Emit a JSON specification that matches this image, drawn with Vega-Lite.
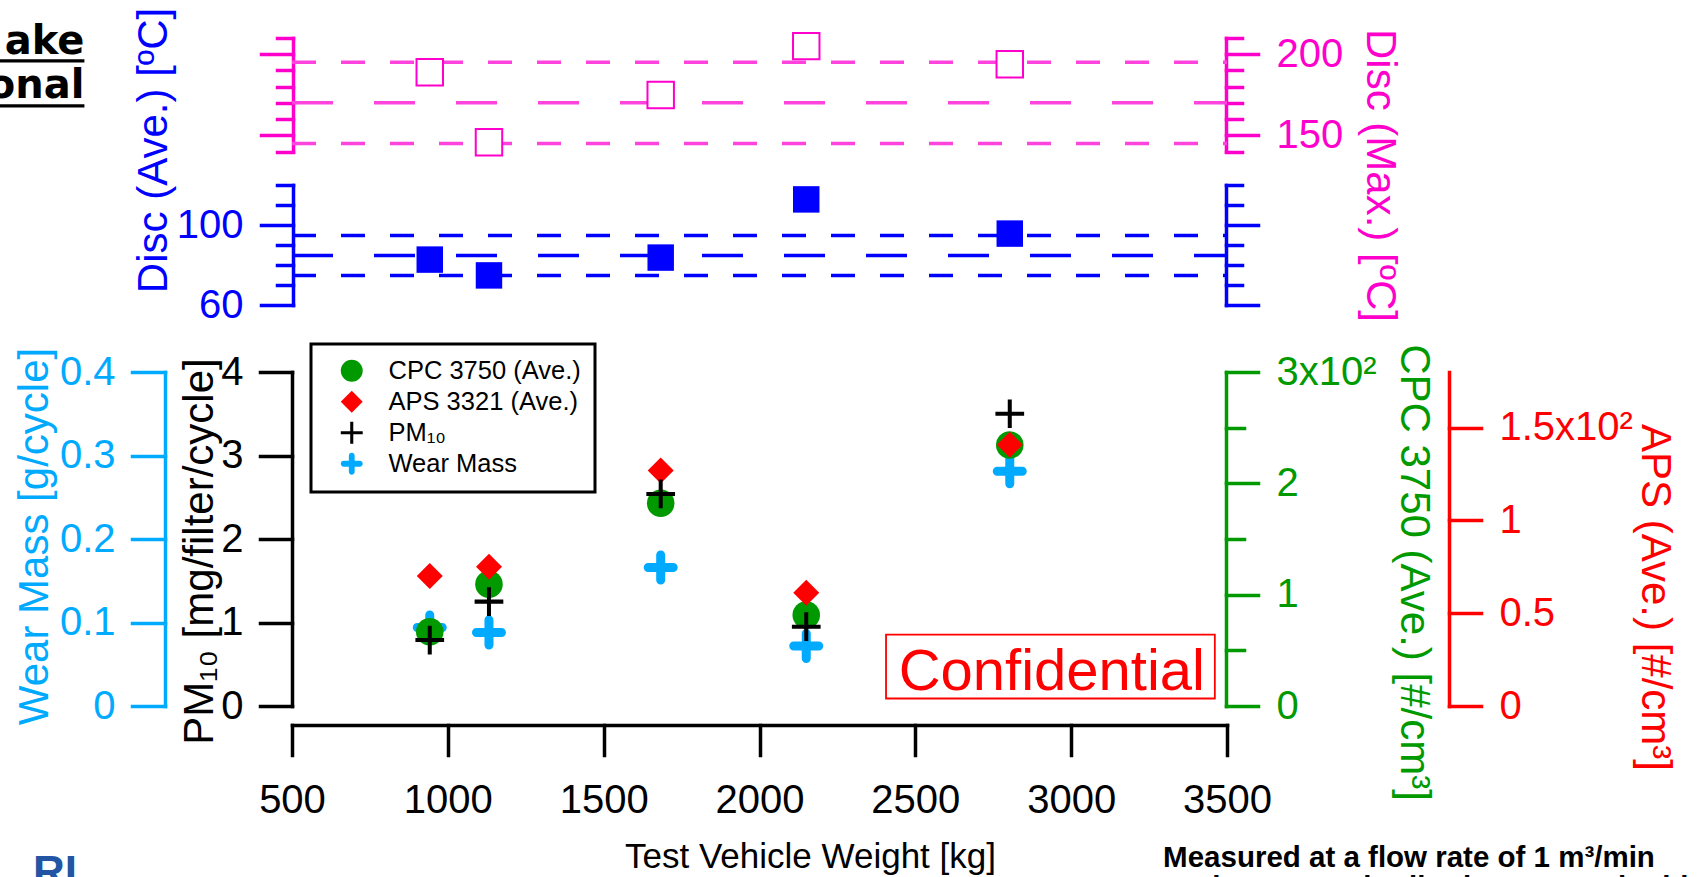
{
  "$schema": "https://vega.github.io/schema/vega-lite/v6.json",
  "width": 1698,
  "height": 877,
  "autosize": {"type": "none"},
  "padding": 0,
  "background": "white",
  "config": {
    "view": {"stroke": null},
    "font": "Liberation Sans",
    "axis": {
      "grid": false,
      "labelFont": "Liberation Sans",
      "titleFont": "Liberation Sans",
      "labelFontSize": 40,
      "titleFontSize": 42,
      "titleFontWeight": "normal",
      "domainWidth": 3.5,
      "tickWidth": 3.5,
      "labelOverlap": false,
      "labelFlush": false,
      "labelBound": false,
      "domainCap": "square",
      "tickCap": "square",
      "titleAlign": "center",
      "titleBaseline": "middle"
    },
    "legend": {"strokeWidth": 3}
  },
  "datasets": {
    "particles": [
      {"weight": 942, "pm10": 0.79, "wear": 0.094, "cpc": 66.7, "aps": 70.1},
      {"weight": 1132, "pm10": 1.25, "wear": 0.088, "cpc": 109.3, "aps": 75.1},
      {"weight": 1683, "pm10": 2.54, "wear": 0.166, "cpc": 182.1, "aps": 126.9},
      {"weight": 2150, "pm10": 0.95, "wear": 0.072, "cpc": 81.7, "aps": 61.1},
      {"weight": 2803, "pm10": 3.5, "wear": 0.281, "cpc": 234.4, "aps": 140.8}
    ],
    "disc": [
      {"weight": 942, "ave": 82.7, "max": 188.9},
      {"weight": 1132, "ave": 74.8, "max": 145.7},
      {"weight": 1683, "ave": 83.7, "max": 174.8},
      {"weight": 2150, "ave": 112.8, "max": 205.0},
      {"weight": 2803, "ave": 95.7, "max": 193.8}
    ],
    "aveLines": [
      {"temp": 94.8, "kind": "band"},
      {"temp": 84.8, "kind": "center"},
      {"temp": 74.8, "kind": "band"}
    ],
    "maxLines": [
      {"temp": 195, "kind": "band"},
      {"temp": 170, "kind": "center"},
      {"temp": 145, "kind": "band"}
    ],
    "one": [{}]
  },
  "resolve": {"scale": {"y": "independent"}, "axis": {"y": "independent", "x": "independent"}},
  "layer": [
    {
      "data": {"name": "aveLines"},
      "mark": {"type": "rule", "color": "#0000FF", "strokeWidth": 3.5},
      "encoding": {
        "x": {"datum": 500, "type": "quantitative", "scale": {"domain": [500, 3500], "range": [292, 1227], "nice": false, "zero": false}, "axis": null},
        "x2": {"datum": 3500},
        "y": {"field": "temp", "type": "quantitative",
          "scale": {"domain": [60, 120], "range": [305, 185], "nice": false, "zero": false},
          "axis": {"orient": "right", "offset": -472, "values": [60, 70, 80, 90, 100, 110, 120],
            "tickSize": {"condition": {"test": "datum.value === 60 || datum.value === 100", "value": 32}, "value": 16},
            "labels": false, "title": null, "domainColor": "#0000FF", "tickColor": "#0000FF"}},
        "strokeDash": {"field": "kind", "type": "nominal", "scale": {"domain": ["band", "center"], "range": [[24, 25], [41, 41]]}, "legend": null}
      }
    },
    {
      "data": {"name": "maxLines"},
      "mark": {"type": "rule", "color": "#FF44DD", "strokeWidth": 3.5},
      "encoding": {
        "x": {"datum": 500, "type": "quantitative", "scale": {"domain": [500, 3500], "range": [292, 1227], "nice": false, "zero": false}, "axis": null},
        "x2": {"datum": 3500},
        "y": {"field": "temp", "type": "quantitative",
          "scale": {"domain": [140, 210], "range": [151.5, 38], "nice": false, "zero": false},
          "axis": {"orient": "left", "offset": -293, "values": [140, 150, 160, 170, 180, 190, 200, 210],
            "tickSize": {"condition": {"test": "datum.value === 150 || datum.value === 200", "value": 32}, "value": 16},
            "labels": false, "title": null, "domainColor": "#FF00CC", "tickColor": "#FF00CC"}},
        "strokeDash": {"field": "kind", "type": "nominal", "scale": {"domain": ["band", "center"], "range": [[24, 25], [41, 41]]}, "legend": null}
      }
    },
    {
      "data": {"name": "disc"},
      "mark": {"type": "point", "shape": "square", "filled": true, "color": "#0000FF", "size": 700, "opacity": 1},
      "encoding": {
        "x": {"field": "weight", "type": "quantitative", "scale": {"domain": [500, 3500], "range": [292, 1227], "nice": false, "zero": false}, "axis": null},
        "y": {"field": "ave", "type": "quantitative",
          "scale": {"domain": [60, 120], "range": [305, 185], "nice": false, "zero": false},
          "axis": {"orient": "left", "offset": -293, "values": [60, 70, 80, 90, 100, 110, 120],
            "tickSize": {"condition": {"test": "datum.value === 60 || datum.value === 100", "value": 32}, "value": 16},
            "labelExpr": "(datum.value === 60 || datum.value === 100) ? datum.label : ''",
            "labelPadding": 18,
            "title": "Disc (Ave.) [ºC]", "titleX": -140, "titleY": 150,
            "domainColor": "#0000FF", "tickColor": "#0000FF", "labelColor": "#0000FF", "titleColor": "#0000FF"}}
      }
    },
    {
      "data": {"name": "disc"},
      "mark": {"type": "point", "shape": "square", "filled": true, "fill": "white", "stroke": "#FF00CC", "strokeWidth": 2, "size": 700, "opacity": 1},
      "encoding": {
        "x": {"field": "weight", "type": "quantitative", "scale": {"domain": [500, 3500], "range": [292, 1227], "nice": false, "zero": false}, "axis": null},
        "y": {"field": "max", "type": "quantitative",
          "scale": {"domain": [140, 210], "range": [151.5, 38], "nice": false, "zero": false},
          "axis": {"orient": "right", "offset": -472, "values": [140, 150, 160, 170, 180, 190, 200, 210],
            "tickSize": {"condition": {"test": "datum.value === 150 || datum.value === 200", "value": 32}, "value": 16},
            "labelExpr": "(datum.value === 150 || datum.value === 200) ? datum.label : ''",
            "labelPadding": 18,
            "title": "Disc (Max.) [ºC]", "titleX": 153, "titleY": 175,
            "domainColor": "#FF00CC", "tickColor": "#FF00CC", "labelColor": "#FF00CC", "titleColor": "#FF00CC"}}
      }
    },
    {
      "data": {"name": "particles"},
      "mark": {"type": "point", "filled": true, "size": 1156, "opacity": 1},
      "encoding": {
        "x": {"field": "weight", "type": "quantitative", "scale": {"domain": [500, 3500], "range": [292, 1227], "nice": false, "zero": false},
          "axis": {"orient": "bottom", "offset": -152, "values": [500, 1000, 1500, 2000, 2500, 3000, 3500], "format": "d",
            "tickSize": 30, "labelPadding": 25, "domainColor": "black", "tickColor": "black", "labelColor": "black",
            "title": "Test Vehicle Weight [kg]", "titleX": 810, "titleY": 142, "titleBaseline": "alphabetic", "titleFontSize": 35, "titleColor": "black"}},
        "y": {"field": "wear", "type": "quantitative",
          "scale": {"domain": [0, 0.4], "range": [706, 372], "nice": false, "zero": false},
          "axis": {"orient": "left", "offset": -165, "values": [0, 0.1, 0.2, 0.3, 0.4], "format": ".1~f",
            "tickSize": 33, "labelPadding": 17,
            "title": "Wear Mass [g/cycle]", "titleX": -131, "titleY": 536,
            "domainColor": "#00AAFF", "tickColor": "#00AAFF", "labelColor": "#00AAFF", "titleColor": "#00AAFF"}},
        "color": {"datum": "Wear Mass", "type": "nominal",
          "scale": {"domain": ["CPC 3750 (Ave.)", "APS 3321 (Ave.)", "PM₁₀", "Wear Mass"], "range": ["#009A00", "#FF0000", "#000000", "#00AAFF"]},
          "legend": {"orient": "none", "legendX": 311, "legendY": 344, "title": null, "padding": 14, "symbolOffset": 14, "labelOffset": 24, "labelFontSize": 25.5, "labelFont": "Liberation Sans", "labelColor": "black", "symbolSize": 480, "rowPadding": 4, "strokeColor": "black", "fillColor": "white", "labelLimit": 400}},
        "shape": {"datum": "Wear Mass", "type": "nominal",
          "scale": {"domain": ["CPC 3750 (Ave.)", "APS 3321 (Ave.)", "PM₁₀", "Wear Mass"], "range": ["circle", "diamond", "M-1,-0.14H1V0.14H-1Z M-0.14,-1H0.14V1H-0.14Z", "M-0.735,-0.265H0.735A0.265,0.265,0,0,1,0.735,0.265H-0.735A0.265,0.265,0,0,1,-0.735,-0.265Z M-0.265,-0.735A0.265,0.265,0,0,1,0.265,-0.735V0.735A0.265,0.265,0,0,1,-0.265,0.735Z"]},
          "legend": {"orient": "none", "legendX": 311, "legendY": 344, "title": null, "padding": 14, "symbolOffset": 14, "labelOffset": 24, "labelFontSize": 25.5, "labelFont": "Liberation Sans", "labelColor": "black", "symbolSize": 480, "rowPadding": 4, "strokeColor": "black", "fillColor": "white", "labelLimit": 400}}
      }
    },
    {
      "data": {"name": "particles"},
      "mark": {"type": "point", "filled": true, "size": 760, "opacity": 1},
      "encoding": {
        "x": {"field": "weight", "type": "quantitative", "scale": {"domain": [500, 3500], "range": [292, 1227], "nice": false, "zero": false}, "axis": null},
        "y": {"field": "cpc", "type": "quantitative",
          "scale": {"domain": [0, 300], "range": [706, 372], "nice": false, "zero": false},
          "axis": {"orient": "right", "offset": -472, "values": [0, 50, 100, 150, 200, 250, 300],
            "tickSize": {"condition": {"test": "datum.value % 100 === 0", "value": 32}, "value": 18},
            "labelExpr": "datum.value === 300 ? '3x10²' : (datum.value % 100 === 0 ? format(datum.value / 100, 'd') : '')",
            "labelPadding": 18,
            "title": "CPC 3750 (Ave.) [#/cm³]", "titleX": 187, "titleY": 572,
            "domainColor": "#009A00", "tickColor": "#009A00", "labelColor": "#009A00", "titleColor": "#009A00"}},
        "color": {"datum": "CPC 3750 (Ave.)", "type": "nominal",
          "scale": {"domain": ["CPC 3750 (Ave.)", "APS 3321 (Ave.)", "PM₁₀", "Wear Mass"], "range": ["#009A00", "#FF0000", "#000000", "#00AAFF"]}},
        "shape": {"datum": "CPC 3750 (Ave.)", "type": "nominal",
          "scale": {"domain": ["CPC 3750 (Ave.)", "APS 3321 (Ave.)", "PM₁₀", "Wear Mass"], "range": ["circle", "diamond", "M-1,-0.14H1V0.14H-1Z M-0.14,-1H0.14V1H-0.14Z", "M-0.735,-0.265H0.735A0.265,0.265,0,0,1,0.735,0.265H-0.735A0.265,0.265,0,0,1,-0.735,-0.265Z M-0.265,-0.735A0.265,0.265,0,0,1,0.265,-0.735V0.735A0.265,0.265,0,0,1,-0.265,0.735Z"]}}
      }
    },
    {
      "data": {"name": "particles"},
      "mark": {"type": "point", "filled": true, "size": 676, "opacity": 1},
      "encoding": {
        "x": {"field": "weight", "type": "quantitative", "scale": {"domain": [500, 3500], "range": [292, 1227], "nice": false, "zero": false}, "axis": null},
        "y": {"field": "aps", "type": "quantitative",
          "scale": {"domain": [0, 180], "range": [706, 372], "nice": false, "zero": false},
          "axis": {"orient": "right", "offset": -249, "values": [0, 50, 100, 150],
            "tickSize": 32,
            "labelExpr": "datum.value === 150 ? '1.5x10²' : format(datum.value / 100, '.1~f')",
            "labelPadding": 18,
            "title": "APS (Ave.) [#/cm³]", "titleX": 205, "titleY": 597,
            "domainColor": "#FF0000", "tickColor": "#FF0000", "labelColor": "#FF0000", "titleColor": "#FF0000"}},
        "color": {"datum": "APS 3321 (Ave.)", "type": "nominal",
          "scale": {"domain": ["CPC 3750 (Ave.)", "APS 3321 (Ave.)", "PM₁₀", "Wear Mass"], "range": ["#009A00", "#FF0000", "#000000", "#00AAFF"]}},
        "shape": {"datum": "APS 3321 (Ave.)", "type": "nominal",
          "scale": {"domain": ["CPC 3750 (Ave.)", "APS 3321 (Ave.)", "PM₁₀", "Wear Mass"], "range": ["circle", "diamond", "M-1,-0.14H1V0.14H-1Z M-0.14,-1H0.14V1H-0.14Z", "M-0.735,-0.265H0.735A0.265,0.265,0,0,1,0.735,0.265H-0.735A0.265,0.265,0,0,1,-0.735,-0.265Z M-0.265,-0.735A0.265,0.265,0,0,1,0.265,-0.735V0.735A0.265,0.265,0,0,1,-0.265,0.735Z"]}}
      }
    },
    {
      "data": {"name": "particles"},
      "mark": {"type": "point", "filled": true, "size": 824, "opacity": 1},
      "encoding": {
        "x": {"field": "weight", "type": "quantitative", "scale": {"domain": [500, 3500], "range": [292, 1227], "nice": false, "zero": false}, "axis": null},
        "y": {"field": "pm10", "type": "quantitative",
          "scale": {"domain": [0, 4], "range": [706, 372], "nice": false, "zero": false},
          "axis": {"orient": "left", "offset": -292, "values": [0, 1, 2, 3, 4], "format": "d",
            "tickSize": 32, "labelPadding": 17,
            "title": "PM₁₀ [mg/filter/cycle]", "titleX": -93, "titleY": 551,
            "domainColor": "black", "tickColor": "black", "labelColor": "black", "titleColor": "black"}},
        "color": {"datum": "PM₁₀", "type": "nominal",
          "scale": {"domain": ["CPC 3750 (Ave.)", "APS 3321 (Ave.)", "PM₁₀", "Wear Mass"], "range": ["#009A00", "#FF0000", "#000000", "#00AAFF"]}},
        "shape": {"datum": "PM₁₀", "type": "nominal",
          "scale": {"domain": ["CPC 3750 (Ave.)", "APS 3321 (Ave.)", "PM₁₀", "Wear Mass"], "range": ["circle", "diamond", "M-1,-0.14H1V0.14H-1Z M-0.14,-1H0.14V1H-0.14Z", "M-0.735,-0.265H0.735A0.265,0.265,0,0,1,0.735,0.265H-0.735A0.265,0.265,0,0,1,-0.735,-0.265Z M-0.265,-0.735A0.265,0.265,0,0,1,0.265,-0.735V0.735A0.265,0.265,0,0,1,-0.265,0.735Z"]}}
      }
    },
    {
      "data": {"name": "one"},
      "mark": {"type": "rect", "filled": false, "color": "#FF0000", "strokeWidth": 1.8},
      "encoding": {
        "x": {"datum": 2406, "type": "quantitative", "scale": {"domain": [500, 3500], "range": [292, 1227], "nice": false, "zero": false}, "axis": null},
        "x2": {"datum": 3461},
        "y": {"datum": 0.855, "type": "quantitative", "scale": {"domain": [0, 4], "range": [706, 372], "nice": false, "zero": false}, "axis": null},
        "y2": {"datum": 0.09}
      }
    },
    {
      "data": {"name": "one"},
      "mark": {"type": "text", "text": "Confidential", "fontSize": 58, "color": "#FF0000", "align": "center", "baseline": "alphabetic", "font": "Liberation Sans"},
      "encoding": {
        "x": {"datum": 2938, "type": "quantitative", "scale": {"domain": [500, 3500], "range": [292, 1227], "nice": false, "zero": false}, "axis": null},
        "y": {"datum": 0.19, "type": "quantitative", "scale": {"domain": [0, 4], "range": [706, 372], "nice": false, "zero": false}, "axis": null}
      }
    },
    {
      "data": {"name": "one"},
      "mark": {"type": "text", "text": "ake", "fontSize": 40, "fontWeight": "bold", "color": "black", "align": "right", "baseline": "alphabetic", "font": "DejaVu Sans"},
      "encoding": {
        "x": {"datum": -166, "type": "quantitative", "scale": {"domain": [500, 3500], "range": [292, 1227], "nice": false, "zero": false}, "axis": null},
        "y": {"datum": 7.808, "type": "quantitative", "scale": {"domain": [0, 4], "range": [706, 372], "nice": false, "zero": false}, "axis": null}
      }
    },
    {
      "data": {"name": "one"},
      "mark": {"type": "text", "text": "onal", "fontSize": 40, "fontWeight": "bold", "color": "black", "align": "right", "baseline": "alphabetic", "font": "DejaVu Sans"},
      "encoding": {
        "x": {"datum": -166, "type": "quantitative", "scale": {"domain": [500, 3500], "range": [292, 1227], "nice": false, "zero": false}, "axis": null},
        "y": {"datum": 7.281, "type": "quantitative", "scale": {"domain": [0, 4], "range": [706, 372], "nice": false, "zero": false}, "axis": null}
      }
    },
    {
      "data": {"name": "one"},
      "mark": {"type": "rule", "color": "black", "strokeWidth": 3.3},
      "encoding": {
        "x": {"datum": -800, "type": "quantitative", "scale": {"domain": [500, 3500], "range": [292, 1227], "nice": false, "zero": false}, "axis": null},
        "x2": {"datum": -166},
        "y": {"datum": 7.725, "type": "quantitative", "scale": {"domain": [0, 4], "range": [706, 372], "nice": false, "zero": false}, "axis": null}
      }
    },
    {
      "data": {"name": "one"},
      "mark": {"type": "rule", "color": "black", "strokeWidth": 3.3},
      "encoding": {
        "x": {"datum": -800, "type": "quantitative", "scale": {"domain": [500, 3500], "range": [292, 1227], "nice": false, "zero": false}, "axis": null},
        "x2": {"datum": -166},
        "y": {"datum": 7.186, "type": "quantitative", "scale": {"domain": [0, 4], "range": [706, 372], "nice": false, "zero": false}, "axis": null}
      }
    },
    {
      "data": {"name": "one"},
      "mark": {"type": "text", "text": "RI", "fontSize": 44, "fontWeight": "bold", "color": "#2255A4", "align": "left", "baseline": "alphabetic", "font": "Liberation Sans"},
      "encoding": {
        "x": {"datum": -331, "type": "quantitative", "scale": {"domain": [500, 3500], "range": [292, 1227], "nice": false, "zero": false}, "axis": null},
        "y": {"datum": -2.168, "type": "quantitative", "scale": {"domain": [0, 4], "range": [706, 372], "nice": false, "zero": false}, "axis": null}
      }
    },
    {
      "data": {"name": "one"},
      "mark": {"type": "text", "text": "Measured at a flow rate of 1 m³/min", "fontSize": 29.5, "fontWeight": "bold", "color": "black", "align": "left", "baseline": "alphabetic", "font": "Liberation Sans"},
      "encoding": {
        "x": {"datum": 3295, "type": "quantitative", "scale": {"domain": [500, 3500], "range": [292, 1227], "nice": false, "zero": false}, "axis": null},
        "y": {"datum": -1.928, "type": "quantitative", "scale": {"domain": [0, 4], "range": [706, 372], "nice": false, "zero": false}, "axis": null}
      }
    },
    {
      "data": {"name": "one"},
      "mark": {"type": "text", "text": "Brake Force Distribution: ~60 % in this", "fontSize": 29.5, "fontWeight": "bold", "color": "black", "align": "left", "baseline": "alphabetic", "font": "Liberation Sans"},
      "encoding": {
        "x": {"datum": 3295, "type": "quantitative", "scale": {"domain": [500, 3500], "range": [292, 1227], "nice": false, "zero": false}, "axis": null},
        "y": {"datum": -2.287, "type": "quantitative", "scale": {"domain": [0, 4], "range": [706, 372], "nice": false, "zero": false}, "axis": null}
      }
    }
  ]
}
